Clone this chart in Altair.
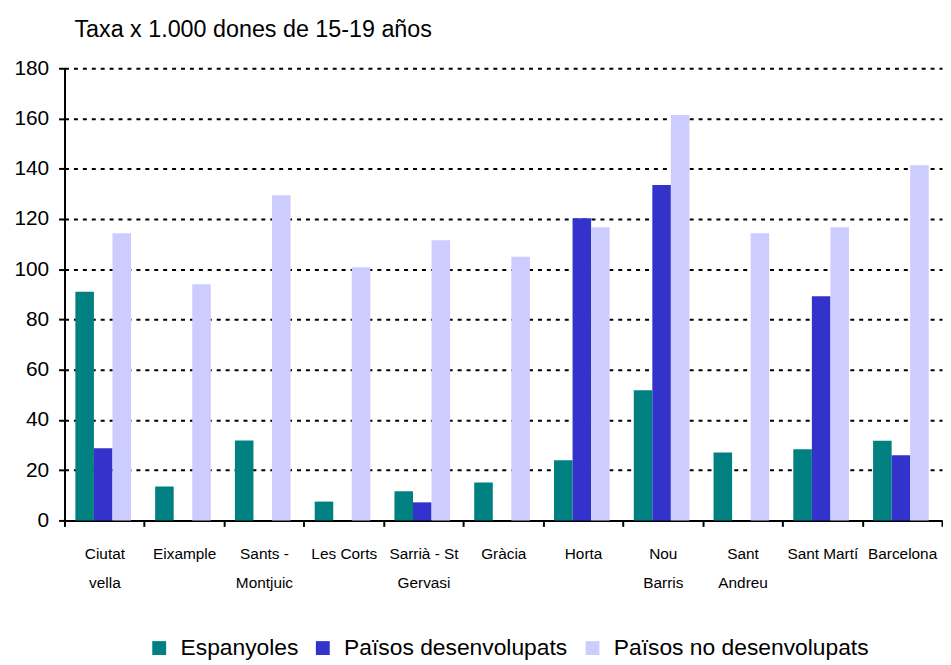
import altair as alt
import pandas as pd

districts = ["Ciutat\nvella", "Eixample", "Sants -\nMontjuic", "Les Corts",
             "Sarrià - St\nGervasi", "Gràcia", "Horta", "Nou\nBarris",
             "Sant\nAndreu", "Sant Martí", "Barcelona"]
series = ["Espanyoles", "Països desenvolupats", "Països no desenvolupats"]
espanyoles = [91, 13.5, 31.8, 7.5, 11.6, 15.1, 24, 51.8, 27, 28.3, 31.7]
desenvolupats = [28.7, 0, 0, 0, 7.2, 0, 120.3, 133.5, 0, 89.2, 25.9]
no_desenvolupats = [114.3, 94, 129.5, 100.8, 111.5, 105, 116.7, 161.4, 114.3, 116.7, 141.4]
colors = ["#008080", "#3333CC", "#CCCCFF"]
y_ticks = [0, 20, 40, 60, 80, 100, 120, 140, 160, 180]

rows = []
for s, vals in zip(series, [espanyoles, desenvolupats, no_desenvolupats]):
    for d, v in zip(districts, vals):
        rows.append({"district": d, "serie": s, "value": v})
df = pd.DataFrame(rows)

FONT = "Liberation Sans"

chart = alt.Chart(df).mark_bar().encode(
    x=alt.X("district:N", sort=districts,
            scale=alt.Scale(paddingInner=0, paddingOuter=0),
            axis=alt.Axis(title=None, labelAngle=0,
                          labelExpr="split(datum.label, '\\n')",
                          labelFontSize=15.5, labelLineHeight=30,
                          labelPadding=20, tickSize=6, tickBand="extent",
                          tickColor="black", tickWidth=2,
                          domainColor="black", domainWidth=2,
                          labelColor="black", labelBaseline="top")),
    xOffset=alt.XOffset("serie:N", sort=series,
                        scale=alt.Scale(paddingInner=0, paddingOuter=0.65,
                                        align=0.45)),
    y=alt.Y("value:Q", scale=alt.Scale(domain=[0, 180], nice=False),
            axis=alt.Axis(title=None, values=y_ticks, labelFontSize=21,
                          labelPadding=10, tickSize=6, tickColor="black",
                          tickWidth=2, domainColor="black", domainWidth=2,
                          labelColor="black",
                          grid=True, gridColor="black", gridDash=[4, 5],
                          gridWidth=2)),
    color=alt.Color("serie:N", sort=series,
                    scale=alt.Scale(domain=series, range=colors),
                    legend=alt.Legend(title=None, orient="none",
                                      direction="horizontal",
                                      legendX=84, legendY=573,
                                      labelFontSize=23, labelColor="black",
                                      labelLimit=0,
                                      symbolType="square", symbolSize=196,
                                      symbolStrokeWidth=0, labelOffset=10,
                                      columnPadding=13)),
).properties(
    width=885,
    height=456,
    padding={"left": 5, "top": 7, "right": 0, "bottom": 0},
    title=alt.TitleParams("Taxa x 1.000 dones de 15-19 años", anchor="start",
                          frame="group", dx=10, fontSize=23.5, font=FONT,
                          fontWeight="normal", color="black", offset=16),
).configure(
    font=FONT,
).configure_view(
    stroke=None,
).configure_axis(
    labelFont=FONT,
)

chart.save("out.html", embed_options={"renderer": "svg", "actions": False})
